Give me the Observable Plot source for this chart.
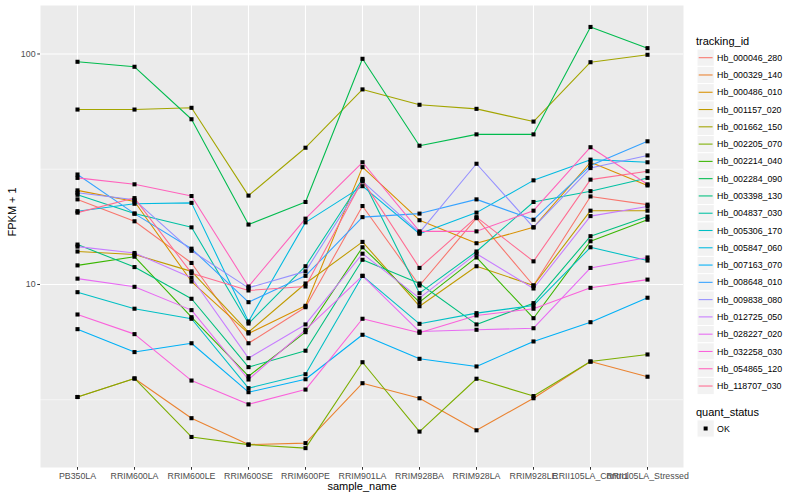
<!DOCTYPE html>
<html>
<head>
<meta charset="utf-8">
<script src="https://cdn.jsdelivr.net/npm/d3@7"></script>
<script src="https://cdn.jsdelivr.net/npm/@observablehq/plot@0.6"></script>
<style>
  html, body { margin: 0; padding: 0; background: white; }
  #wrap { position: relative; width: 800px; height: 500px; font-family: "Liberation Sans", Arial, sans-serif; }
  #chart { position: absolute; left: 0; top: 0; }
  #legend { position: absolute; left: 690px; top: 0; }
</style>
</head>
<body>
<div id="wrap"><div id="chart"></div><div id="legend"></div></div>
<script>
const samples = ["PB350LA","RRIM600LA","RRIM600LE","RRIM600SE","RRIM600PE","RRIM901LA","RRIM928BA","RRIM928LA","RRIM928LE","RRII105LA_Control","RRII105LA_Stressed"];

const trackingIds = ["Hb_000046_280","Hb_000329_140","Hb_000486_010","Hb_001157_020","Hb_001662_150","Hb_002205_070","Hb_002214_040","Hb_002284_090","Hb_003398_130","Hb_004837_030","Hb_005306_170","Hb_005847_060","Hb_007163_070","Hb_008648_010","Hb_009838_080","Hb_012725_050","Hb_028227_020","Hb_032258_030","Hb_054865_120","Hb_118707_030"];

const colors = ["#F8766D","#EA8331","#D89000","#C09B00","#A3A500","#7CAE00","#39B600","#00BB4E","#00BF7D","#00C1A3","#00BFC4","#00BAE0","#00B0F6","#35A2FF","#9590FF","#C77CFF","#E76BF3","#FA62DB","#FF62BC","#FF6C91"];

// FPKM + 1 per sample (same order as samples)
const Hb_000046_280 = [23.4, 18.8, 12.4, 5.56, 7.97, 21.9, 9.90, 19.4, 9.90, 24.1, 22.2];
const Hb_000329_140 = [3.25, 3.91, 2.63, 2.02, 2.05, 3.73, 3.21, 2.33, 3.21, 4.63, 3.98];
const Hb_000486_010 = [25.6, 22.9, 10.3, 6.13, 8.08, 32.3, 19.0, 15.1, 17.7, 33.9, 26.9];
const Hb_001157_020 = [13.9, 13.5, 11.4, 6.21, 10.1, 15.3, 8.05, 12.0, 9.90, 20.9, 20.9];
const Hb_001662_150 = [57.4, 57.4, 58.4, 24.3, 39.2, 70.2, 60.2, 57.8, 50.9, 92.1, 99.2];
const Hb_002205_070 = [3.25, 3.91, 2.18, 2.02, 1.95, 4.60, 2.30, 3.90, 3.28, 4.63, 4.97];
const Hb_002214_040 = [12.1, 13.2, 7.21, 4.00, 6.21, 14.5, 8.38, 13.1, 7.14, 15.4, 19.1];
const Hb_002284_090 = [92.5, 88.0, 52.1, 18.2, 22.8, 95.3, 40.0, 44.8, 44.8, 131, 106];
const Hb_003398_130 = [14.9, 11.9, 8.67, 4.38, 5.16, 12.8, 10.1, 6.71, 8.30, 16.2, 19.7];
const Hb_004837_030 = [24.5, 20.3, 17.7, 6.77, 12.0, 28.7, 9.17, 13.9, 22.8, 25.4, 29.0];
const Hb_005306_170 = [9.26, 7.85, 7.10, 3.55, 4.08, 10.9, 6.75, 7.51, 8.11, 14.5, 12.7];
const Hb_005847_060 = [20.8, 22.4, 22.6, 6.91, 18.6, 26.7, 16.6, 20.5, 28.3, 34.8, 33.9];
const Hb_007163_070 = [6.40, 5.09, 5.56, 3.41, 3.88, 6.05, 4.76, 4.41, 5.66, 6.86, 8.76];
const Hb_008648_010 = [30.0, 20.3, 14.3, 8.38, 10.9, 19.6, 20.3, 23.4, 19.1, 32.8, 41.8];
const Hb_009838_080 = [25.0, 23.3, 14.0, 9.67, 11.4, 28.0, 16.8, 33.4, 17.7, 32.0, 36.3];
const Hb_012725_050 = [14.6, 13.7, 10.7, 4.79, 6.71, 13.6, 8.72, 13.6, 9.61, 19.8, 21.8];
const Hb_028227_020 = [10.6, 9.77, 7.74, 3.87, 6.36, 10.9, 6.25, 6.36, 6.46, 11.8, 13.1];
const Hb_032258_030 = [7.41, 6.09, 3.83, 3.02, 3.50, 7.10, 6.17, 7.34, 7.85, 9.67, 10.5];
const Hb_054865_120 = [29.0, 27.2, 24.2, 9.80, 19.3, 33.9, 17.0, 17.0, 20.9, 39.4, 27.2];
const Hb_118707_030 = [20.5, 23.7, 11.2, 9.42, 9.80, 28.3, 11.8, 19.6, 12.6, 28.5, 31.0];

const seriesValues = [Hb_000046_280, Hb_000329_140, Hb_000486_010, Hb_001157_020, Hb_001662_150, Hb_002205_070, Hb_002214_040, Hb_002284_090, Hb_003398_130, Hb_004837_030, Hb_005306_170, Hb_005847_060, Hb_007163_070, Hb_008648_010, Hb_009838_080, Hb_012725_050, Hb_028227_020, Hb_032258_030, Hb_054865_120, Hb_118707_030];

const yTicks = [10, 100];
const yMinor = [Math.sqrt(10), Math.sqrt(1000)];
const quantStatus = ["OK"];

const data = [];
trackingIds.forEach((id, i) => {
  samples.forEach((s, j) => data.push({tracking_id: id, sample_name: s, fpkm: seriesValues[i][j], quant_status: "OK"}));
});

const chart = Plot.plot({
  width: 690,
  height: 500,
  marginLeft: 40,
  marginRight: 7,
  marginTop: 5,
  marginBottom: 33,
  style: {fontFamily: "'Liberation Sans', Arial, sans-serif", background: "white", overflow: "visible"},
  x: {type: "point", domain: samples, padding: 0.6},
  y: {type: "log", domain: [1.607, 162.3]},
  color: {domain: trackingIds, range: colors},
  marks: [
    Plot.frame({fill: "#EBEBEB", stroke: null}),
    Plot.ruleY(yMinor, {stroke: "white", strokeWidth: 0.55}),
    Plot.ruleY(yTicks, {stroke: "white", strokeWidth: 1.1}),
    Plot.ruleX(samples, {stroke: "white", strokeWidth: 1.1}),
    Plot.line(data, {x: "sample_name", y: "fpkm", z: "tracking_id", stroke: "tracking_id", strokeWidth: 1.07}),
    Plot.dot(data, {x: "sample_name", y: "fpkm", symbol: "square", r: 2.3, fill: "black", stroke: null}),
    Plot.axisY({ticks: yTicks, tickFormat: d => String(d), tickSize: 2.75, tickPadding: 2.2, fontSize: 8.8, fill: "#4D4D4D", stroke: "#333333", label: null}),
    Plot.axisX({tickSize: 2.75, tickPadding: 2.2, fontSize: 8.8, fill: "#4D4D4D", stroke: "#333333", label: null}),
    Plot.text(["FPKM + 1"], {frameAnchor: "left", dx: -28, rotate: -90, fontSize: 11, fill: "black"}),
    Plot.text(["sample_name"], {frameAnchor: "bottom", dy: 22.5, fontSize: 11, fill: "black"})
  ]
});
document.getElementById("chart").appendChild(chart);

// Legend (ggplot style)
const lg = d3.select("#legend").append("svg").attr("width", 110).attr("height", 500)
  .style("font-family", "'Liberation Sans', Arial, sans-serif");
const keyH = 17.28, keyX = 7, firstCenter = 57.7;
lg.append("text").attr("x", 6).attr("y", 44.5).attr("font-size", 11).attr("fill", "black").text("tracking_id");
trackingIds.forEach((id, i) => {
  const cy = firstCenter + keyH * i;
  const g = lg.append("g");
  g.append("rect").attr("x", keyX).attr("y", cy - keyH / 2).attr("width", keyH).attr("height", keyH)
    .attr("fill", "#F2F2F2").attr("stroke", "white").attr("stroke-width", 1);
  g.append("line").attr("x1", keyX + 1.7).attr("x2", keyX + keyH - 1.7).attr("y1", cy).attr("y2", cy)
    .attr("stroke", colors[i]).attr("stroke-width", 1.07);
  g.append("text").attr("x", keyX + keyH + 2.8).attr("y", cy + 3.1).attr("font-size", 8.8).attr("fill", "black").text(id);
});
lg.append("text").attr("x", 6).attr("y", 416).attr("font-size", 11).attr("fill", "black").text("quant_status");
quantStatus.forEach((q, i) => {
  const cy = 428.5 + keyH * i;
  lg.append("rect").attr("x", keyX).attr("y", cy - keyH / 2).attr("width", keyH).attr("height", keyH)
    .attr("fill", "#F2F2F2").attr("stroke", "white").attr("stroke-width", 1);
  lg.append("rect").attr("x", keyX + keyH / 2 - 2).attr("y", cy - 2).attr("width", 4).attr("height", 4).attr("fill", "black");
  lg.append("text").attr("x", keyX + keyH + 2.8).attr("y", cy + 3.1).attr("font-size", 8.8).attr("fill", "black").text(q);
});
</script>
</body>
</html>
